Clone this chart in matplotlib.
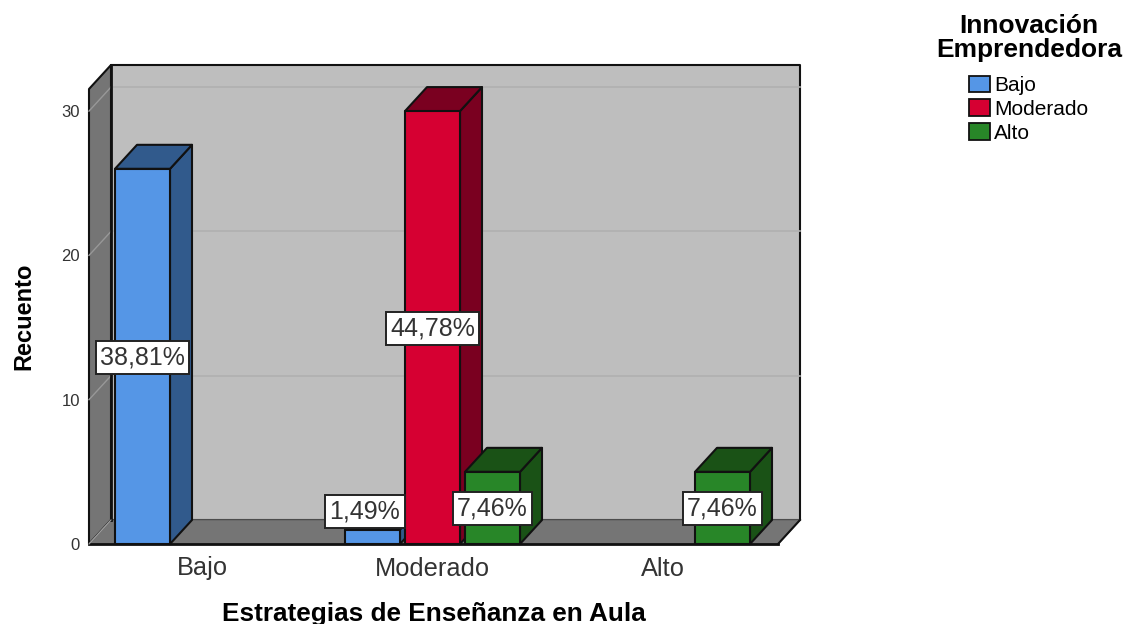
import matplotlib
matplotlib.use("Agg")
import matplotlib.pyplot as plt
from matplotlib.patches import Polygon, Patch

categories = ["Bajo", "Moderado", "Alto"]
series_names = ["Bajo", "Moderado", "Alto"]
counts_bajo = [26, 1, 0]
counts_moderado = [0, 30, 0]
counts_alto = [0, 5, 5]
pct_bajo = ["38,81%", "1,49%", ""]
pct_moderado = ["", "44,78%", ""]
pct_alto = ["", "7,46%", "7,46%"]
yticks = [0, 10, 20, 30]

front_colors = ["#5596E6", "#D60032", "#288628"]
side_colors = ["#315A8C", "#7A0020", "#1A5216"]

W, H = 1124, 624
LEFT, RIGHT, TOP, BOTTOM = 89, 778, 89, 544
PX_X = 230.0  # pixels per category
PX_Y = 14.43  # pixels per count
DX = 22 / PX_X
DY = 24 / PX_Y
BAR_W = 55 / PX_X
BAR_STEP = 60 / PX_X
EDGE = "#111111"

plt.rcParams["font.family"] = ["Liberation Sans", "DejaVu Sans"]

fig = plt.figure(figsize=(W / 100, H / 100), dpi=100)
ax = fig.add_axes([LEFT / W, 1 - BOTTOM / H, (RIGHT - LEFT) / W, (BOTTOM - TOP) / H])
x0 = (LEFT - 202.5) / PX_X
x1 = (RIGHT - 202.5) / PX_X
y1 = (BOTTOM - TOP) / PX_Y
ax.set_xlim(x0, x1)
ax.set_ylim(0, y1)
for s in ax.spines.values():
    s.set_visible(False)


def face(points, color, z, lw=1.5, ec=EDGE):
    ax.add_patch(Polygon(points, closed=True, facecolor=color, edgecolor=ec,
                         linewidth=lw, zorder=z, clip_on=False, joinstyle="round"))


# walls and floor
face([(x0 + DX, DY), (x1 + DX, DY), (x1 + DX, y1 + DY), (x0 + DX, y1 + DY)], "#BEBEBE", 1)
face([(x0, 0), (x0 + DX, DY), (x0 + DX, y1 + DY), (x0, y1)], "#757575", 1)
face([(x0, 0), (x1, 0), (x1 + DX, DY), (x0 + DX, DY)], "#757575", 1, lw=1.0, ec="#666666")
ax.plot([x0, x1], [0, 0], color=EDGE, lw=2.0, zorder=1.5, clip_on=False)
ax.plot([x1, x1 + DX], [0, DY], color=EDGE, lw=1.5, zorder=1.5, clip_on=False)
ax.plot([x0 + DX, x0 + DX], [DY, y1 + DY], color=EDGE, lw=2.0, zorder=1.5, clip_on=False)
ax.plot([x0, x0 + DX], [0, DY], color="#A0A0A0", lw=0.8, zorder=1.5, clip_on=False)

# gridlines, running along the left wall and then the back wall
for t in yticks[1:]:
    ax.plot([x0, x0 + DX], [t, t + DY], color="#989898", lw=1.0, zorder=1.2, clip_on=False)
    ax.plot([x0 + DX, x1 + DX], [t + DY, t + DY], color="#B0B0B0", lw=1.2, zorder=1.2,
            clip_on=False)

all_counts = [counts_bajo, counts_moderado, counts_alto]
all_pcts = [pct_bajo, pct_moderado, pct_alto]

z = 3
for c in range(len(categories)):
    for s in range(len(series_names)):
        v = all_counts[s][c]
        if v == 0:
            continue
        xa = c + (s - 1) * BAR_STEP - BAR_W / 2
        xb = xa + BAR_W
        face([(xb, 0), (xb + DX, DY), (xb + DX, v + DY), (xb, v)], side_colors[s], z)
        face([(xa, v), (xb, v), (xb + DX, v + DY), (xa + DX, v + DY)], side_colors[s], z)
        face([(xa, 0), (xb, 0), (xb, v), (xa, v)], front_colors[s], z)
        z += 1

# value labels sit in the middle of each bar, the small one is pushed up
for c in range(len(categories)):
    for s in range(len(series_names)):
        label = all_pcts[s][c]
        if not label:
            continue
        v = all_counts[s][c]
        xc = c + (s - 1) * BAR_STEP
        off = (-5.5, 18.5) if v == 1 else (0, -0.5)
        ax.annotate(label, (xc, v / 2), xytext=off, textcoords="offset points",
                    ha="center", va="center", fontsize=18, color="#333333",
                    zorder=20, annotation_clip=False,
                    bbox=dict(boxstyle="square,pad=0.18", fc="white", ec="#222222", lw=1.4))

ax.set_xticks(range(len(categories)), categories, fontsize=18.3, color="#333333")
ax.set_yticks(yticks, [str(t) for t in yticks], fontsize=12, color="#333333")
ax.tick_params(axis="x", length=0, pad=9)
ax.tick_params(axis="y", length=0, pad=6.5)

ax.set_xlabel("Estrategias de Enseñanza en Aula", fontweight="bold", fontsize=18.8, labelpad=15.5)
ax.set_ylabel("Recuento", fontweight="bold", fontsize=17, labelpad=19)

# legend title is separate so the gap to the entries can match
fig.text(1029 / W, 1 - 38 / H, "Innovación\nEmprendedora", ha="center", va="center",
         multialignment="center", fontweight="bold", fontsize=19, linespacing=0.95)

handles = [Patch(facecolor=front_colors[i], edgecolor=EDGE, linewidth=1.3, label=series_names[i])
           for i in range(3)]
fig.legend(handles=handles, frameon=False, loc="upper center",
           bbox_to_anchor=(1029 / W, 1 - 57 / H), prop={"size": 15},
           handlelength=1.0, handleheight=0.85, handletextpad=0.2, labelspacing=0.2)

fig.savefig("out.png", dpi=100)
